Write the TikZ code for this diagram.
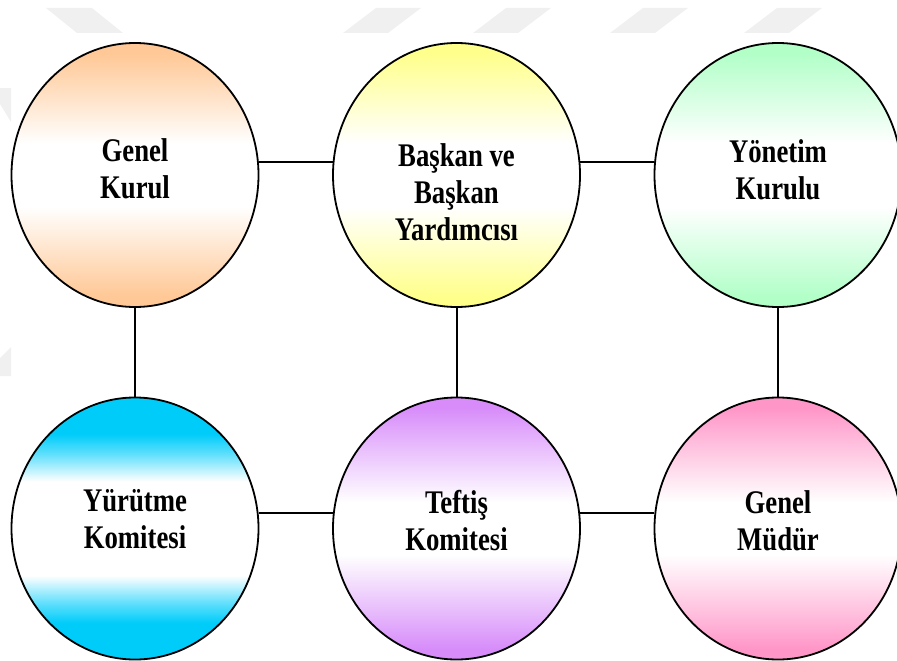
\documentclass[tikz,border=0pt]{standalone}
\usepackage{fontspec}
\newfontfamily\lblfont{Liberation Serif}[FakeStretch=0.81]
\usetikzlibrary{shapes.geometric}
\definecolor{cOrange}{RGB}{255,200,150}
\definecolor{cYellow}{RGB}{255,255,140}
\definecolor{cGreen}{RGB}{178,255,200}
\definecolor{cCyan}{RGB}{0,204,250}
\definecolor{cPurple}{RGB}{215,140,250}
\definecolor{cPink}{RGB}{255,150,200}
\colorlet{mOrange}{cOrange!60!white}
\colorlet{mYellow}{cYellow!60!white}
\colorlet{mGreen}{cGreen!60!white}
\colorlet{mCyan}{cCyan!60!white}
\colorlet{mPurple}{cPurple!60!white}
\colorlet{mPink}{cPink!60!white}
\definecolor{wmgrey}{RGB}{240,240,240}
\pgfdeclareverticalshading{shO}{100bp}{color(0bp)=(cOrange); color(27bp)=(cOrange); color(34bp)=(mOrange); color(44bp)=(white); color(56bp)=(white); color(66bp)=(mOrange); color(73bp)=(cOrange); color(100bp)=(cOrange)}
\pgfdeclareverticalshading{shY}{100bp}{color(0bp)=(cYellow); color(27bp)=(cYellow); color(34bp)=(mYellow); color(44bp)=(white); color(56bp)=(white); color(66bp)=(mYellow); color(73bp)=(cYellow); color(100bp)=(cYellow)}
\pgfdeclareverticalshading{shG}{100bp}{color(0bp)=(cGreen); color(27bp)=(cGreen); color(34bp)=(mGreen); color(44bp)=(white); color(56bp)=(white); color(66bp)=(mGreen); color(73bp)=(cGreen); color(100bp)=(cGreen)}
\pgfdeclareverticalshading{shC}{100bp}{color(0bp)=(cCyan); color(32bp)=(cCyan); color(36bp)=(mCyan); color(41bp)=(white); color(59bp)=(white); color(64bp)=(mCyan); color(68bp)=(cCyan); color(100bp)=(cCyan)}
\pgfdeclareverticalshading{shP}{100bp}{color(0bp)=(cPurple); color(27bp)=(cPurple); color(34bp)=(mPurple); color(45bp)=(white); color(55bp)=(white); color(66bp)=(mPurple); color(73bp)=(cPurple); color(100bp)=(cPurple)}
\pgfdeclareverticalshading{shK}{100bp}{color(0bp)=(cPink); color(27bp)=(cPink); color(34bp)=(mPink); color(45bp)=(white); color(55bp)=(white); color(66bp)=(mPink); color(73bp)=(cPink); color(100bp)=(cPink)}
\begin{document}
\begin{tikzpicture}[x=1pt,y=-1pt,
  egg/.style={ellipse, draw=black, line width=1.8pt, minimum width=247pt, minimum height=264pt, inner sep=0pt},
  lbl/.style={font=\lblfont\bfseries\fontsize{33}{37}\selectfont, align=center, anchor=north, inner sep=0pt, text=black},
  link/.style={draw=black, line width=2pt},
  wm/.style={fill=wmgrey, draw=none}]
\useasboundingbox (0,0) rectangle (897,661);
% watermark
\fill[wm] (46,8) -- (92,8) -- (123,33) -- (77,33) -- cycle;
\fill[wm] (343,33) -- (376,8) -- (421,8) -- (388,33) -- cycle;
\fill[wm] (473,33) -- (506,8) -- (551,8) -- (518,33) -- cycle;
\fill[wm] (610,33) -- (643,8) -- (688,8) -- (655,33) -- cycle;
\fill[wm] (744,33) -- (777,8) -- (822,8) -- (789,33) -- cycle;
\fill[wm] (0,88) -- (11,88) -- (11,122) -- (0,104) -- cycle;
\fill[wm] (0,358) -- (11,347) -- (11,376) -- (0,376) -- cycle;
% ellipses
\node[egg, shading=shO] (gk) at (135,175) {};
\node[egg, shading=shY] (bk) at (456.5,175) {};
\node[egg, shading=shG] (yk) at (778,175) {};
\node[egg, shading=shC, minimum height=262pt] (yr) at (135,528.5) {};
\node[egg, shading=shP, minimum height=262pt] (tk) at (456.5,528.5) {};
\node[egg, shading=shK, minimum height=262pt] (gm) at (778,528.5) {};
% connectors
\draw[link] (gk.6) -- (bk.174);
\draw[link] (bk.6) -- (yk.174);
\draw[link] (yr.7) -- (tk.173);
\draw[link] (tk.7) -- (gm.173);
\draw[link] (gk.south) -- (yr.north);
\draw[link] (bk.south) -- (tk.north);
\draw[link] (yk.south) -- (gm.north);
% labels
\node[lbl] (tgk) at (135,138) {Genel\\Kurul};
\node[lbl] (tbk) at (456.5,143) {Başkan ve\\Başkan\\Yardımcısı};
\node[lbl] (tyk) at (778,139) {Yönetim\\Kurulu};
\node[lbl] (tyr) at (135,489) {Yürütme\\Komitesi};
\node[lbl] (ttk) at (456.5,490) {Teftiş\\Komitesi};
\node[lbl] (tgm) at (778,490) {Genel\\Müdür};
\end{tikzpicture}
\end{document}
